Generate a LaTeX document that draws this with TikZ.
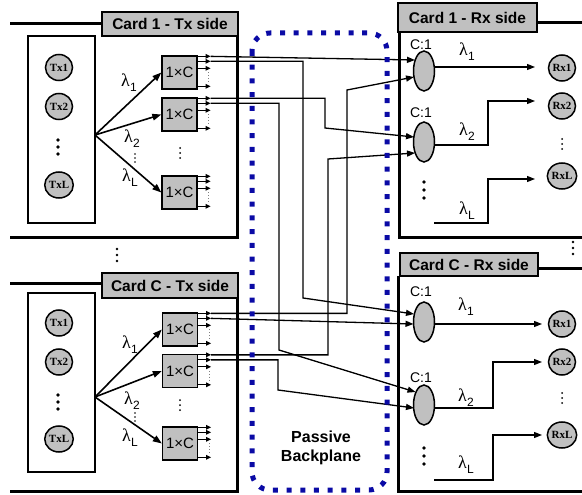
\documentclass[tikz,border=0pt]{standalone}
\usepackage{fontspec}
\setmainfont{Liberation Serif}
\setsansfont{Liberation Sans}
\usetikzlibrary{arrows.meta,calc,shapes.geometric}
\definecolor{boxgray}{RGB}{192,192,192}
\definecolor{bpblue}{RGB}{10,10,165}
\newcommand\lamtxt[1]{λ\kern0.3pt\raisebox{-5pt}{\sffamily\fontsize{12}{12}\selectfont #1}}
\newcommand\mydots[4]{\foreach \k in {-1,0,1}{\fill (#1,{#2+\k*#4}) circle (#3);}}
\newcommand\myports[1]{%
  \foreach \d in {1,6,13,31}{\draw[stub] ($(#1.north east)+(0,\d)$) -- ++(13,0);}
  \draw[dotted,line width=0.9pt,gray] ($(#1.north east)+(11,17)$) -- ++(0,10);
  \coordinate (#1a) at ($(#1.north east)+(13,1)$);
  \coordinate (#1b) at ($(#1.north east)+(13,6)$);}
\begin{document}
\begin{tikzpicture}[x=1pt,y=-1pt,
  frame/.style={line width=3pt},
  cardlabel/.style={draw,line width=1.8pt,fill=boxgray,font=\sffamily\bfseries\fontsize{15.5}{15.5}\selectfont,minimum width=136pt,minimum height=24pt,inner sep=0pt},
  splitter/.style={draw,line width=1.3pt,fill=boxgray,minimum width=35pt,minimum height=33pt,inner sep=0pt,font=\sffamily\fontsize{15}{15}\selectfont},
  coupler/.style={draw,ellipse,line width=1.5pt,fill=boxgray,minimum width=21pt,minimum height=40pt,inner sep=0pt},
  trx/.style={draw,ellipse,line width=1.5pt,fill=boxgray,minimum width=27pt,minimum height=26pt,inner sep=0pt,font=\bfseries\fontsize{11}{11}\selectfont},
  conn/.style={line width=1.3pt,-{Triangle[length=8pt,width=6pt]}},
  fan/.style={line width=1.6pt,-{Triangle[length=9pt,width=6.5pt]}},
  stub/.style={line width=1.2pt,-{Triangle[length=5pt,width=4.5pt]}},
  lam/.style={font=\fontsize{18}{18}\selectfont,inner sep=0pt},
  clab/.style={font=\sffamily\fontsize{14}{14}\selectfont,inner sep=0pt},
  innerbox/.style={line width=1.4pt}
]
\useasboundingbox (0,0) rectangle (582,495);

%% ---------- Card 1 Tx ----------
\node[cardlabel] (c1tx) at (170,24) {Card 1 - Tx side};
\draw[frame] (10,24) -- (c1tx.west);
\draw[frame] (237,36) -- (237,237) -- (10,237);
\draw[innerbox] (28,36) rectangle (95,223);
\node[trx] (tx11) at (59,67.5) {Tx1};
\node[trx] (tx12) at (59,106.5) {Tx2};
\node[trx] (tx1L) at (59,185) {TxL};
\mydots{58}{147}{1.8}{7}
\coordinate (f1) at (95,135);
\node[splitter] (s11) at (179.5,72.5) {1×C};
\node[splitter] (s12) at (179.5,114.5) {1×C};
\node[splitter] (s1L) at (179.5,192.5) {1×C};
\draw[fan] (f1) -- (s11.west);
\draw[fan] (f1) -- (s12.west);
\draw[fan] (f1) -- (s1L.west);
\node[lam] (l11) at (129,83) {\lamtxt{1}};
\node[lam] (l12) at (132,139) {\lamtxt{2}};
\node[lam] (l1L) at (130,178) {\lamtxt{L}};
\mydots{135}{158}{0.9}{4}
\mydots{180}{153}{1}{5}
\myports{s11}\myports{s12}\myports{s1L}

%% ---------- Card C Tx ----------
\node[cardlabel,minimum height=25pt] (cCtx) at (170,285.5) {Card C - Tx side};
\draw[frame] (10,283) -- (102,283);
\draw[frame] (237,298) -- (237,491) -- (10,491);
\draw[innerbox] (28,293) rectangle (95,472);
\node[trx] (txC1) at (59,323) {Tx1};
\node[trx] (txC2) at (59,362) {Tx2};
\node[trx] (txCL) at (59,439) {TxL};
\mydots{58}{402}{1.8}{7}
\coordinate (fC) at (95,397);
\node[splitter] (sC1) at (180,329.5) {1×C};
\node[splitter] (sC2) at (180,371) {1×C};
\node[splitter] (sCL) at (180,443.5) {1×C};
\draw[fan] (fC) -- (sC1.west);
\draw[fan] (fC) -- (sC2.west);
\draw[fan] (fC) -- (sCL.west);
\node[lam] (lC1) at (130,345) {\lamtxt{1}};
\node[lam] (lC2) at (132,401) {\lamtxt{2}};
\node[lam] (lCL) at (130,438) {\lamtxt{L}};
\mydots{135}{417}{0.9}{4}
\mydots{180}{405}{1}{5}
\myports{sC1}\myports{sC2}\myports{sCL}

\mydots{117}{255}{1.4}{6}

%% ---------- Card 1 Rx ----------
\node[cardlabel,minimum width=139pt,minimum height=29pt] (c1rx) at (467.5,17.5) {Card 1 - Rx side};
\draw[frame] (537,23) -- (582,23);
\draw[frame] (399,32) -- (399,237) -- (582,237);
\node[coupler] (e11) at (424,71) {};
\node[coupler] (e12) at (424,142) {};
\node[clab] (k11) at (421,45) {C:1};
\node[clab] (k12) at (421,113) {C:1};
\node[trx] (rx11) at (562,68) {Rx1};
\node[trx] (rx12) at (562,106) {Rx2};
\node[trx] (rx1L) at (562,176) {RxL};
\mydots{562}{144}{1}{5}
\mydots{424}{190}{1.8}{8}
\coordinate (r11in) at (535,67);
\coordinate (r12in) at (535,101);
\coordinate (r1Lin) at (535,179);
\coordinate (w1L) at (434,223);
\draw[conn] ([yshift=4pt]e11.east) -- (r11in);
\draw[conn] ([yshift=-3pt]e12.east) -| (488,101) -- (r12in);
\draw[conn] (w1L) -| (488,179) -- (r1Lin);
\node[lam] (m11) at (467,52) {\lamtxt{1}};
\node[lam] (m12) at (467,132) {\lamtxt{2}};
\node[lam] (m1L) at (467,211) {\lamtxt{L}};

%% ---------- Card C Rx ----------
\node[cardlabel,minimum width=138pt,minimum height=23pt] (cCrx) at (469,264.5) {Card C - Rx side};
\draw[frame] (538,268) -- (582,268);
\draw[frame] (398,276) -- (398,491) -- (582,491);
\node[coupler] (eC1) at (424,322) {};
\node[coupler] (eC2) at (424,405) {};
\node[clab] (kC1) at (421,292) {C:1};
\node[clab] (kC2) at (421,378) {C:1};
\node[trx] (rxC1) at (562,324) {Rx1};
\node[trx] (rxC2) at (562,362) {Rx2};
\node[trx] (rxCL) at (562,435) {RxL};
\mydots{562}{398}{1}{5}
\mydots{424}{456}{1.8}{8}
\coordinate (rC1in) at (542,324);
\coordinate (rC2in) at (542,362);
\coordinate (rCLin) at (542,435);
\coordinate (wCL) at (434,480);
\draw[conn] ([yshift=-2pt]eC1.east) -- (rC1in);
\draw[conn] ([yshift=-3pt]eC2.east) -| (493,362) -- (rC2in);
\draw[conn] (wCL) -| (493,435) -- (rCLin);
\node[lam] (mC1) at (466,307) {\lamtxt{1}};
\node[lam] (mC2) at (466,398) {\lamtxt{2}};
\node[lam] (mCL) at (466,465) {\lamtxt{L}};

\mydots{573}{248}{1.3}{6}

%% ---------- backplane connections ----------
\coordinate (e11a) at ($(e11.center)+(-9,-11)$);
\coordinate (e11b) at ($(e11.center)+(-10,6)$);
\coordinate (e12a) at ($(e12.center)+(-10,-5)$);
\coordinate (e12b) at ($(e12.center)+(-9,11)$);
\coordinate (eC1a) at ($(eC1.center)+(-10,-8)$);
\coordinate (eC1b) at ($(eC1.center)+(-10.5,2)$);
\coordinate (eC2a) at ($(eC2.center)+(-8.5,-13)$);
\coordinate (eC2b) at ($(eC2.center)+(-10,3)$);
\draw[conn] (s11a) -- (e11a);
\draw[conn] (s11b) -| (303,298) -- (eC1a);
\draw[conn] (s12a) -| (325,128) -- (e12a);
\draw[conn] (s12b) -| (279,350) -- (eC2a);
\draw[conn] (sC1a) -| (347,90) -- (e11b);
\draw[conn] (sC1b) -- (eC1b);
\draw[conn] (sC2a) -| (328,159) -- (e12b);
\draw[conn] (sC2b) -| (278,390) -- (eC2b);

%% ---------- passive backplane ----------
\draw[bpblue,line width=5pt,dash pattern=on 5pt off 8.7pt,rounded corners=18pt] (252,33) rectangle (387,490);
\node[font=\sffamily\bfseries\fontsize{16}{19}\selectfont,align=center,inner sep=0pt] (bp) at (321,447.5) {Passive\\Backplane};
\end{tikzpicture}
\end{document}
